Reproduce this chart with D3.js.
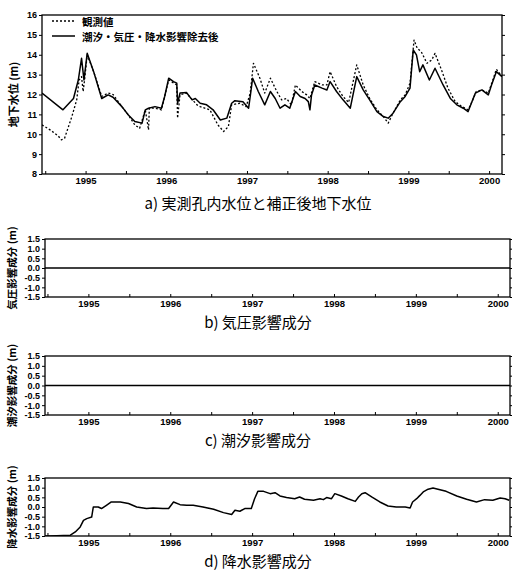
<!DOCTYPE html>
<html>
<head>
<meta charset="utf-8">
<script src="https://cdn.jsdelivr.net/npm/d3@7/dist/d3.min.js"></script>
<style>
html,body{margin:0;padding:0;background:#fff;}
svg{display:block;}
.tk text{font-family:"Liberation Sans",Arial,sans-serif;font-weight:bold;font-size:9px;fill:#000;}
.tk path,.tk line{stroke:#000;stroke-width:1;}
</style>
</head>
<body>
<svg id="c" width="512" height="573"></svg>
<script>
// ---------- data ----------
const yearTicks = [1995, 1996, 1997, 1998, 1999, 2000];
const halfYearTicks = [1994.5, 1995, 1995.5, 1996, 1996.5, 1997, 1997.5, 1998, 1998.5, 1999, 1999.5, 2000];
const levelTicks = [8, 9, 10, 11, 12, 13, 14, 15, 16];
const compTicks = [-1.5, -1.0, -0.5, 0.0, 0.5, 1.0, 1.5];
const compTickLabels = ["-1.5", "-1.0", "-0.5", "0.0", "0.5", "1.0", "1.5"];

const legendLabels = ["観測値", "潮汐・気圧・降水影響除去後"];
const captions = ["a) 実測孔内水位と補正後地下水位", "b) 気圧影響成分", "c) 潮汐影響成分", "d) 降水影響成分"];
const yTitles = ["地下水位 (m)", "気圧影響成分 (m)", "潮汐影響成分 (m)", "降水影響成分 (m)"];

// corrected groundwater level (solid)
const corrTime = [1994.46,1994.72,1994.85,1994.91,1994.95,1994.98,1995.02,1995.10,1995.20,1995.28,1995.34,1995.45,1995.53,1995.61,1995.70,1995.74,1995.78,1995.86,1995.94,1995.98,1996.03,1996.09,1996.13,1996.14,1996.17,1996.25,1996.32,1996.36,1996.42,1996.50,1996.58,1996.67,1996.75,1996.81,1996.85,1996.95,1997.02,1997.04,1997.07,1997.14,1997.22,1997.29,1997.35,1997.41,1997.47,1997.53,1997.60,1997.66,1997.72,1997.76,1997.78,1997.80,1997.84,1997.93,1997.99,1998.03,1998.11,1998.19,1998.28,1998.36,1998.44,1998.52,1998.61,1998.69,1998.75,1998.81,1998.90,1998.96,1999.02,1999.06,1999.10,1999.14,1999.18,1999.26,1999.33,1999.43,1999.52,1999.60,1999.68,1999.74,1999.78,1999.83,1999.91,1999.99,2000.03,2000.09,2000.16];
const corrLevel = [12.07,11.23,11.80,12.73,13.82,12.73,14.07,13.15,11.80,11.98,11.86,11.39,10.97,10.64,10.56,11.23,11.31,11.39,11.31,11.90,12.82,12.65,12.57,11.56,12.07,12.10,11.73,11.80,11.56,11.48,11.23,10.72,10.81,11.56,11.69,11.64,11.31,11.90,12.82,12.15,11.48,12.15,11.80,11.31,11.48,11.31,12.15,11.90,11.80,11.64,11.23,11.98,12.48,12.32,12.23,12.65,12.15,11.73,11.31,12.90,12.23,11.73,11.14,10.89,10.81,11.06,11.64,11.90,12.32,14.24,13.99,13.15,13.49,12.73,13.32,12.48,11.80,11.48,11.31,11.14,11.56,12.07,12.23,11.98,12.48,13.15,12.90];

// observed borehole water level (dotted)
const obsTime = [1994.46,1994.56,1994.66,1994.70,1994.74,1994.83,1994.89,1994.92,1994.95,1994.97,1994.99,1995.02,1995.10,1995.20,1995.28,1995.34,1995.45,1995.53,1995.61,1995.67,1995.74,1995.78,1995.79,1995.86,1995.94,1995.98,1996.03,1996.13,1996.14,1996.17,1996.25,1996.38,1996.42,1996.54,1996.64,1996.71,1996.77,1996.81,1996.91,1996.99,1997.04,1997.08,1997.16,1997.22,1997.29,1997.37,1997.43,1997.49,1997.55,1997.60,1997.68,1997.74,1997.78,1997.84,1997.93,1997.99,1998.03,1998.11,1998.19,1998.26,1998.36,1998.44,1998.52,1998.61,1998.69,1998.75,1998.81,1998.90,1998.96,1999.02,1999.07,1999.11,1999.16,1999.23,1999.29,1999.33,1999.41,1999.49,1999.58,1999.66,1999.74,1999.78,1999.84,1999.91,1999.99,2000.04,2000.09,2000.16];
const obsLevel = [10.47,10.22,9.92,9.72,9.80,10.89,11.73,12.73,12.90,12.15,12.82,13.99,13.15,11.90,12.07,12.00,11.39,10.97,10.47,10.30,11.23,10.22,11.31,11.31,11.23,11.90,12.73,12.48,10.81,11.98,12.07,11.48,11.39,11.23,10.47,10.14,10.39,11.48,11.56,11.39,12.07,13.57,12.82,12.07,12.82,12.15,11.73,11.80,11.48,12.48,12.15,11.98,11.80,12.65,12.48,12.48,13.15,12.40,11.90,11.60,13.49,12.48,11.80,11.23,10.89,10.56,11.06,11.73,11.98,12.57,14.74,14.32,14.15,13.57,13.74,14.07,13.24,12.32,11.64,11.40,11.23,11.56,12.15,12.23,12.07,12.65,13.27,12.90];

// barometric pressure component
const pressTime = [1994.47, 2000.15];
const pressValue = [0.0, 0.0];
// tidal component
const tideTime = [1994.47, 2000.15];
const tideValue = [0.0, 0.0];
// precipitation component
const rainTime = [1994.47,1994.53,1994.78,1994.84,1994.90,1994.94,1994.98,1995.04,1995.06,1995.12,1995.16,1995.22,1995.28,1995.39,1995.49,1995.59,1995.71,1995.79,1995.91,1995.98,1996.04,1996.12,1996.20,1996.28,1996.40,1996.53,1996.65,1996.75,1996.79,1996.85,1996.91,1996.99,1997.03,1997.07,1997.14,1997.22,1997.28,1997.34,1997.42,1997.52,1997.58,1997.64,1997.75,1997.83,1997.87,1997.91,1997.97,1998.01,1998.09,1998.17,1998.26,1998.30,1998.34,1998.38,1998.46,1998.56,1998.66,1998.76,1998.87,1998.93,1998.96,1999.01,1999.05,1999.09,1999.15,1999.21,1999.27,1999.37,1999.50,1999.62,1999.74,1999.84,1999.94,2000.03,2000.09,2000.14];
const rainValue = [-1.50,-1.50,-1.46,-1.29,-1.03,-0.69,-0.60,-0.52,0.00,0.00,-0.08,0.09,0.26,0.26,0.18,0.00,-0.08,-0.05,-0.08,-0.08,0.26,0.12,0.09,0.09,0.00,-0.12,-0.29,-0.39,-0.17,-0.22,-0.08,-0.08,0.43,0.81,0.81,0.69,0.74,0.57,0.49,0.43,0.52,0.40,0.35,0.43,0.38,0.49,0.43,0.69,0.57,0.43,0.29,0.52,0.69,0.74,0.52,0.26,0.05,0.00,0.00,-0.05,0.26,0.43,0.60,0.78,0.92,0.98,0.92,0.81,0.57,0.40,0.26,0.38,0.35,0.47,0.43,0.35];

// ---------- drawing ----------
const svg = d3.select("#c");
const cjk = '"Noto Sans CJK JP","Noto Sans CJK SC",sans-serif';

function drawPanel(o) {
  const x = d3.scaleLinear().domain(o.xDomain).range([o.left, o.right]);
  const y = d3.scaleLinear().domain(o.yDomain).range([o.bottom, o.top]);
  const g = svg.append("g");

  const la = d3.axisLeft(y).tickValues(o.yTicks).tickSize(3).tickPadding(2)
    .tickFormat((d, i) => o.yLabels[i]);
  g.append("g").attr("class", "tk").attr("transform", `translate(${o.left},0)`).call(la)
    .call(s => s.select(".domain").remove());
  const ra = d3.axisRight(y).tickValues(o.yTicks).tickSize(3).tickFormat("");
  g.append("g").attr("class", "tk").attr("transform", `translate(${o.right},0)`).call(ra)
    .call(s => s.select(".domain").remove());
  const ba = d3.axisBottom(x).tickValues(halfYearTicks.filter(t => t >= o.xDomain[0] && t <= o.xDomain[1]))
    .tickSize(-3).tickFormat("");
  g.append("g").attr("class", "tk").attr("transform", `translate(0,${o.bottom})`).call(ba)
    .call(s => s.select(".domain").remove());
  const ya = d3.axisBottom(x).tickValues(yearTicks).tickSize(0).tickPadding(3).tickFormat(d3.format("d"));
  g.append("g").attr("class", "tk").attr("transform", `translate(0,${o.bottom})`).call(ya)
    .call(s => s.select(".domain").remove())
    .selectAll("text").style("font-size", "9.5px");

  const cid = "clip" + Math.round(o.top);
  svg.append("clipPath").attr("id", cid).append("rect")
    .attr("x", o.left).attr("y", o.top).attr("width", o.right - o.left).attr("height", o.bottom - o.top);

  o.series.forEach(s => {
    const line = d3.line().x((d, i) => x(s.t[i])).y((d, i) => y(s.v[i]));
    g.append("path").attr("clip-path", `url(#${cid})`)
      .attr("d", line(s.v))
      .attr("fill", "none").attr("stroke", "#000")
      .attr("stroke-width", s.w).attr("stroke-dasharray", s.dash || null)
      .attr("stroke-linejoin", "round");
  });

  g.append("rect").attr("x", o.left).attr("y", o.top)
    .attr("width", o.right - o.left).attr("height", o.bottom - o.top)
    .attr("fill", "none").attr("stroke", "#000").attr("stroke-width", 1.3);

  g.append("text")
    .attr("transform", `translate(${o.titleX},${(o.top + o.bottom) / 2}) rotate(-90)`)
    .attr("text-anchor", "middle").attr("dominant-baseline", "central")
    .style("font-family", cjk).style("font-weight", "bold").style("font-size", o.titleSize + "px")
    .text(o.title);

  svg.append("text").attr("x", 258).attr("y", o.captionY).attr("text-anchor", "middle")
    .style("font-family", cjk).style("font-size", "15px").text(o.caption);

  return {x, y, g};
}

drawPanel({
  left: 42, right: 502, top: 15, bottom: 174,
  xDomain: [1994.46, 2000.16], yDomain: [8, 16],
  yTicks: levelTicks, yLabels: levelTicks.map(String),
  series: [
    {t: obsTime, v: obsLevel, w: 1.3, dash: "2,2"},
    {t: corrTime, v: corrLevel, w: 1.5}
  ],
  title: yTitles[0], titleX: 13, titleSize: 11,
  caption: captions[0], captionY: 209
});

// legend
const lg = svg.append("g");
[[21, "2,2", 1.3], [36, null, 1.5]].forEach((r, i) => {
  lg.append("line").attr("x1", 52).attr("x2", 75).attr("y1", r[0]).attr("y2", r[0])
    .attr("stroke", "#000").attr("stroke-width", r[2]).attr("stroke-dasharray", r[1]);
  lg.append("text").attr("x", 82).attr("y", r[0]).attr("dominant-baseline", "central")
    .style("font-family", cjk).style("font-weight", "bold").style("font-size", "10.5px")
    .text(legendLabels[i]);
});

const lowDomain = [1994.47, 2000.15];
drawPanel({
  left: 45, right: 510, top: 239, bottom: 297,
  xDomain: lowDomain, yDomain: [-1.5, 1.5],
  yTicks: compTicks, yLabels: compTickLabels,
  series: [{t: pressTime, v: pressValue, w: 1.3}],
  title: yTitles[1], titleX: 11, titleSize: 10.5,
  caption: captions[1], captionY: 328
});
drawPanel({
  left: 45, right: 510, top: 356, bottom: 415,
  xDomain: lowDomain, yDomain: [-1.5, 1.5],
  yTicks: compTicks, yLabels: compTickLabels,
  series: [{t: tideTime, v: tideValue, w: 1.3}],
  title: yTitles[2], titleX: 11, titleSize: 10.5,
  caption: captions[2], captionY: 446
});
drawPanel({
  left: 45, right: 510, top: 478, bottom: 536,
  xDomain: lowDomain, yDomain: [-1.5, 1.5],
  yTicks: compTicks, yLabels: compTickLabels,
  series: [{t: rainTime, v: rainValue, w: 1.5}],
  title: yTitles[3], titleX: 11, titleSize: 10.5,
  caption: captions[3], captionY: 567
});
</script>
</body>
</html>
